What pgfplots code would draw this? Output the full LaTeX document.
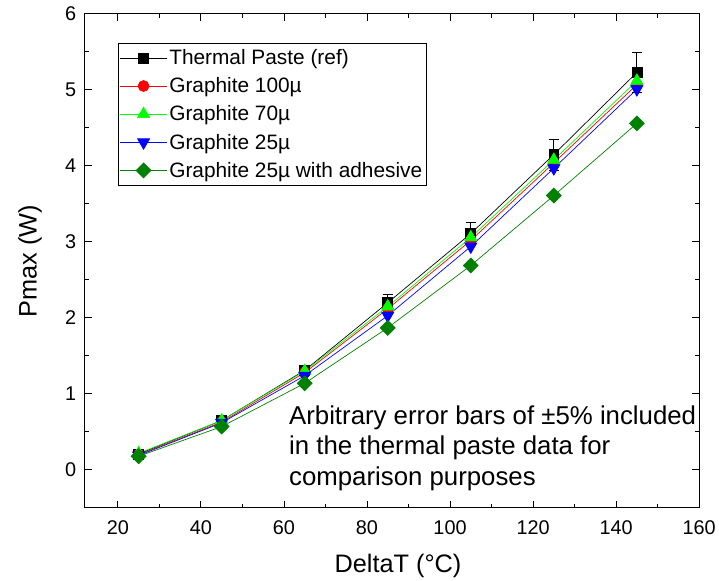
\documentclass[border=0pt]{standalone}
\usepackage{fontspec}
\setmainfont{Liberation Sans}
\usepackage{pgfplots}
\pgfplotsset{compat=1.18}
\definecolor{adhgreen}{RGB}{0,128,0}
\definecolor{limeg}{RGB}{0,255,0}
\begin{document}
\begin{tikzpicture}
\begin{axis}[
  at={(0,0)}, anchor=south west,
  scale only axis, width=617bp, height=496bp,
  xmin=12, xmax=160, ymin=-0.5, ymax=6,
  xtick={20,40,...,160}, ytick={0,1,...,6},
  minor xtick={30,50,...,150}, minor ytick={0.5,1.5,...,5.5},
  tick align=inside, tick pos=both,
  major tick length=7bp, minor tick length=4bp,
  every tick/.style={black, line width=0.9pt},
  axis line style={line width=1.1pt},
  /pgf/number format/assume math mode=true,
  tick label style={font=\fontsize{20}{23}\selectfont},
  xticklabel style={yshift=-9bp},
  yticklabel style={xshift=-5bp},
  xlabel={DeltaT (°C)}, ylabel={Pmax (W)},
  label style={font=\fontsize{25.5}{29}\selectfont},
  xlabel style={at={(axis description cs:0.51,-0.117)}, anchor=center},
  ylabel style={at={(axis description cs:-0.089,0.5)}, anchor=center},
  legend style={at={(0.0535,0.9415)}, anchor=north west, draw=black, line width=0.6pt,
    font=\fontsize{21}{24}\selectfont, row sep=7.6bp, inner xsep=2bp, inner ysep=4.5bp},
  legend cell align=left,
  legend image code/.code={
    \draw[mark repeat=2,mark phase=2] plot coordinates {(0bp,0bp) (23.5bp,0bp) (47bp,0bp)};},
]
\addplot[black, line width=0.7pt, mark=square*, mark size=5bp,
  error bars/.cd, y dir=both, y explicit, error bar style={black, line width=0.8pt},
  error mark options={rotate=90, mark size=5bp, black}]
  coordinates {(25,0.21) +- (0,0.0105) (45,0.65) +- (0,0.0325) (65,1.31) +- (0,0.0655)
   (85,2.20) +- (0,0.11) (105,3.11) +- (0,0.1555) (125,4.15) +- (0,0.2075) (145,5.23) +- (0,0.2615)};
\addlegendentry{Thermal Paste (ref)}
\addplot[red, line width=0.7pt, mark=*, mark size=5.5bp]
  coordinates {(25,0.20) (45,0.63) (65,1.28) (85,2.12) (105,3.02) (125,4.04) (145,5.07)};
\addlegendentry{Graphite 100\textmu}
\addplot[limeg, line width=0.7pt, mark=triangle*, mark size=7bp]
  coordinates {(25,0.22) (45,0.65) (65,1.30) (85,2.15) (105,3.06) (125,4.08) (145,5.12)};
\addlegendentry{Graphite 70\textmu}
\addplot[blue, line width=0.7pt, mark=triangle*, mark options={rotate=180}, mark size=7bp]
  coordinates {(25,0.19) (45,0.62) (65,1.24) (85,2.03) (105,2.94) (125,3.97) (145,5.01)};
\addlegendentry{Graphite 25\textmu}
\addplot[adhgreen, line width=0.7pt, mark=diamond*, mark size=7.5bp, mark options={xscale=1.33}]
  coordinates {(25,0.18) (45,0.57) (65,1.14) (85,1.87) (105,2.69) (125,3.61) (145,4.56)};
\addlegendentry{Graphite 25\textmu{} with adhesive}
% error bars of the reference series drawn again on top of the markers
\addplot[draw=none, no marks, forget plot,
  error bars/.cd, y dir=both, y explicit, error bar style={black, line width=0.8pt},
  error mark options={rotate=90, mark size=5bp, black}]
  coordinates {(25,0.21) +- (0,0.0105) (45,0.65) +- (0,0.0325) (65,1.31) +- (0,0.0655)
   (85,2.20) +- (0,0.11) (105,3.11) +- (0,0.1555) (125,4.15) +- (0,0.2075) (145,5.23) +- (0,0.2615)};
\node[anchor=north west, align=left, font=\fontsize{26}{31}\selectfont, inner sep=0pt]
  at (axis cs:61.2,0.85) {Arbitrary error bars of ±5\% included\\in the thermal paste data for\\comparison purposes};
\end{axis}
\path[use as bounding box] (-85bp,-72bp) rectangle (634bp,510bp);
\end{tikzpicture}
\end{document}
